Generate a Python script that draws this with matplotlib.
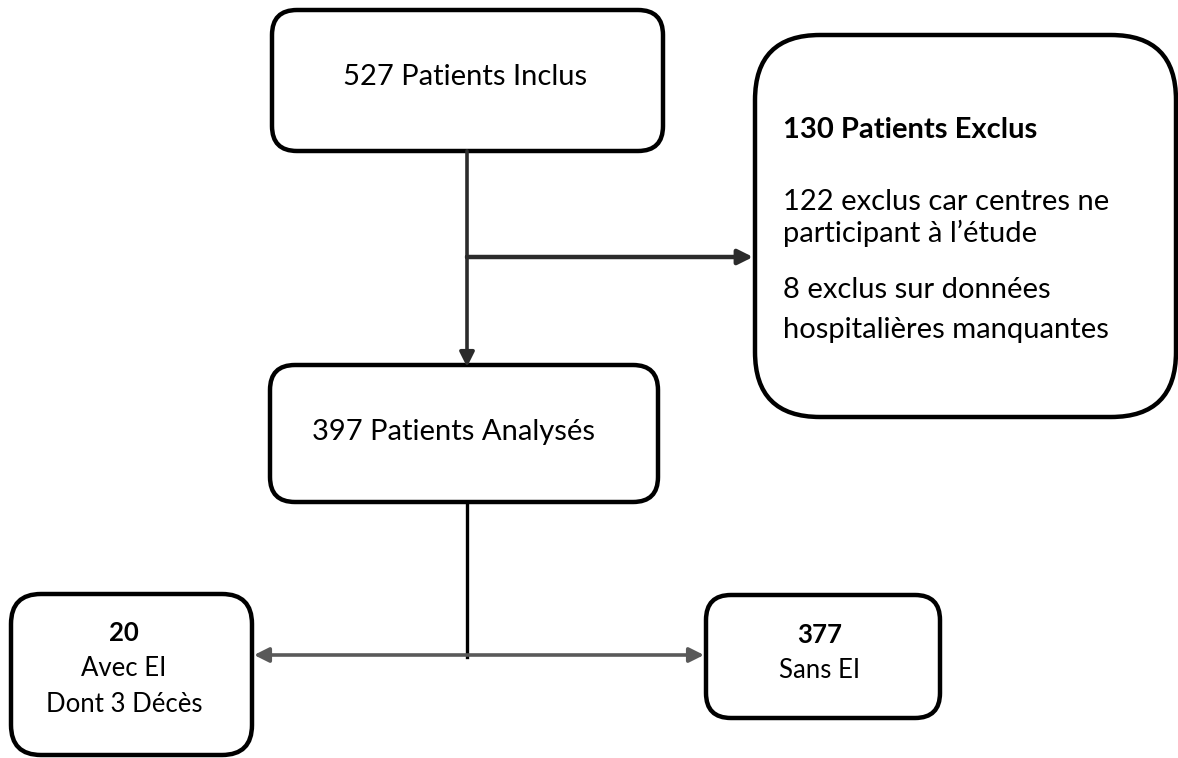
import matplotlib.pyplot as plt
from matplotlib.patches import FancyBboxPatch

plt.rcParams['font.family'] = ['Lato', 'DejaVu Sans']

# texts of the flowchart
top_label = "527 Patients Inclus"
excl_title = "130 Patients Exclus"
excl_lines = ["122 exclus car centres ne", "participant à l’étude",
              "8 exclus sur données", "hospitalières manquantes"]
mid_label = "397 Patients Analysés"
left_count, left_lines = "20", ["Avec EI", "Dont 3 Décès"]
right_count, right_lines = "377", ["Sans EI"]

fig = plt.figure(figsize=(11.78, 7.58), dpi=100)
ax = fig.add_axes([0, 0, 1, 1])
ax.set_xlim(0, 1178)
ax.set_ylim(758, 0)
ax.axis('off')

FS = 21
FS2 = 18.5


def box(x0, y0, x1, y1, r):
    p = FancyBboxPatch((x0, y0), x1 - x0, y1 - y0,
                       boxstyle=f"round,pad=0,rounding_size={r}",
                       fc='white', ec='black', lw=3.2, zorder=2)
    ax.add_patch(p)


def arrow(x0, y0, x1, y1, color, both=False, lw=2.6):
    style = '<|-|>' if both else '-|>'
    ax.annotate('', xy=(x1, y1), xytext=(x0, y0),
                arrowprops=dict(arrowstyle=style, color=color, lw=lw,
                                mutation_scale=22, shrinkA=0, shrinkB=0),
                zorder=3)


# boxes
box(272, 10, 663, 151, 25)
box(755, 35, 1176, 417, 65)
box(270, 365, 658, 502, 25)
box(11, 594, 252, 755, 30)
box(706, 595, 940, 718, 25)

# connectors
arrow(467, 151, 467, 367, '#2b2b2b')
ax.plot([467, 470], [257, 257], color='#2b2b2b', lw=2.6)
arrow(467, 257, 753, 257, '#2b2b2b', lw=3.2)
ax.plot([467, 467], [502, 657], color='black', lw=2.4, zorder=1)
arrow(254, 655, 704, 655, '#595959', both=True)

# texts
ax.text(465, 77, top_label, fontsize=FS, ha='center', va='center', zorder=4)
ax.text(783, 130, excl_title, fontsize=FS, fontweight='bold',
        ha='left', va='center', zorder=4)
for y, s in zip([202, 233, 290, 330], excl_lines):
    ax.text(783, y, s, fontsize=FS, ha='left', va='center', zorder=4)
ax.text(454, 432, mid_label, fontsize=FS, ha='center', va='center', zorder=4)

ax.text(124, 633, left_count, fontsize=FS2, fontweight='bold',
        ha='center', va='center', zorder=4)
for i, s in enumerate(left_lines):
    ax.text(124, 669 + 36 * i, s, fontsize=FS2, ha='center', va='center', zorder=4)

ax.text(820, 635, right_count, fontsize=FS2, fontweight='bold',
        ha='center', va='center', zorder=4)
for i, s in enumerate(right_lines):
    ax.text(820, 670 + 36 * i, s, fontsize=FS2, ha='center', va='center', zorder=4)

fig.savefig('out.png', dpi=100, facecolor='white')
